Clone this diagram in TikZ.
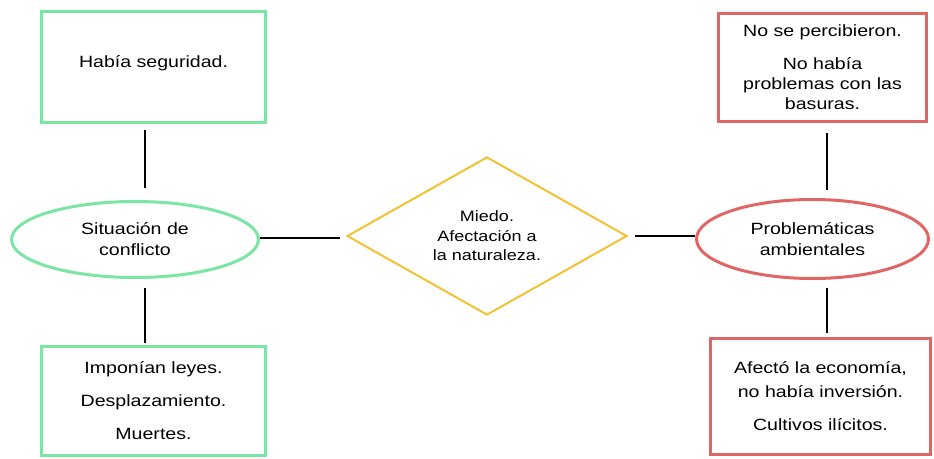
\documentclass[tikz,border=0pt]{standalone}
\usepackage{fontspec}
\setmainfont{Liberation Sans}[FakeStretch=1.2]
\usetikzlibrary{shapes.geometric}
\definecolor{cgreen}{HTML}{7BE6A3}
\definecolor{cred}{HTML}{E06666}
\definecolor{cyellow}{HTML}{F1C232}
\begin{document}
\begin{tikzpicture}[x=1pt,y=-1pt,
  txt/.style={font=\fontsize{16.3}{20}\selectfont, align=center, inner sep=0pt},
  gbox/.style={txt, draw=cgreen, line width=3pt, rectangle},
  rbox/.style={txt, draw=cred, line width=3pt, rectangle},
  gell/.style={txt, draw=cgreen, line width=3pt, ellipse},
  rell/.style={txt, draw=cred, line width=3pt, ellipse},
  dia/.style={draw=cyellow, line width=2pt, diamond, align=center, inner sep=0pt, font=\fontsize{15}{19.5}\selectfont},
  conn/.style={draw=black, line width=2.2pt}]
\path[use as bounding box, fill=white] (0,0) rectangle (934,458);

\node[gbox, minimum width=224pt, minimum height=111pt] (tl) at (153.5,67) {\raisebox{4pt}[\height][\depth]{Había seguridad.}};
\node[gell, minimum width=247pt, minimum height=76pt] (le) at (135,239.5) {Situación de\\[1pt]conflicto};
\node[gbox, minimum width=224pt, minimum height=109pt] (bl) at (153.5,401) {Imponían leyes.\\[13pt]Desplazamiento.\\[13pt]Muertes.};

\node[dia, minimum width=280pt, minimum height=142pt] (dia) at (487,236) {Miedo.\\Afectación a\\la naturaleza.};

\node[rbox, minimum width=208pt, minimum height=108pt] (tr) at (822.5,67.5) {No se percibieron.\\[13pt]No había\\problemas con las\\basuras.};
\node[rell, minimum width=232pt, minimum height=79pt] (re) at (812.5,239) {Problemáticas\\[1pt]ambientales};
\node[rbox, minimum width=220pt, minimum height=116pt] (br) at (820.5,396.5) {Afectó la economía,\\[4pt]no había inversión.\\[13pt]Cultivos ilícitos.};

\draw[conn] ([xshift=-8.5pt,yshift=-6pt]tl.south) -- ([xshift=10pt,yshift=12pt]le.north);
\draw[conn] ([xshift=10pt,yshift=-9pt]le.south) -- ([xshift=-8.5pt,yshift=2pt]bl.north);
\draw[conn, shorten >=6pt] ([yshift=1.5pt]le.east) -- ([yshift=1.5pt]le.east -| dia.west);
\draw[conn, shorten <=7pt] (dia.east) -- (dia.east -| re.west);
\draw[conn] ([xshift=4.5pt,yshift=-10pt]tr.south) -- ([xshift=14.5pt,yshift=8pt]re.north);
\draw[conn] ([xshift=14.5pt,yshift=-8pt]re.south) -- ([xshift=6.5pt,yshift=4pt]br.north);
\end{tikzpicture}
\end{document}
